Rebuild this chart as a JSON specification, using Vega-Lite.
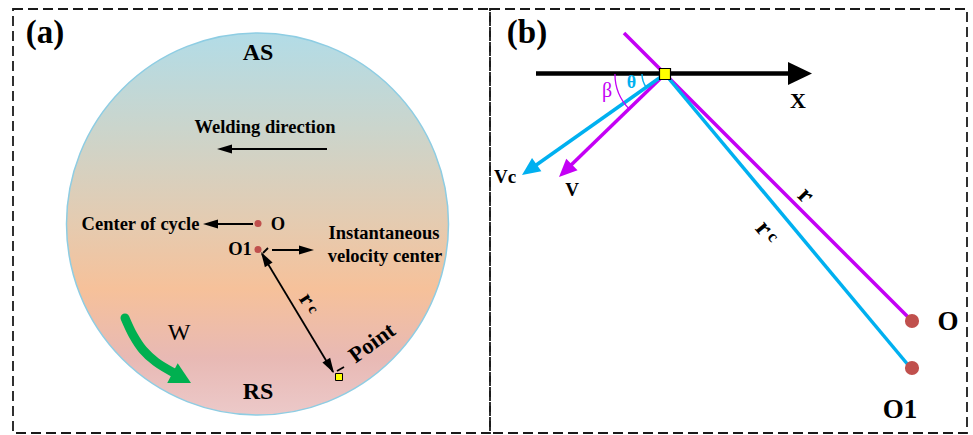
{
  "$schema": "https://vega.github.io/schema/vega-lite/v6.json",
  "width": 973,
  "height": 435,
  "autosize": {"type": "fit", "contains": "padding"},
  "padding": 0,
  "background": "white",
  "config": {"view": {"stroke": null}},
  "datasets": {
    "frames": [
      {"x": 13, "y": 9, "x2": 490, "y2": 433},
      {"x": 490, "y": 9, "x2": 967, "y2": 433}
    ],
    "disk": [{"x": 257.5, "y": 224}],
    "segs": [
      {"id": "weld", "x": 327, "y": 149, "x2": 225, "y2": 149},
      {"id": "cycle", "x": 253, "y": 224, "x2": 210, "y2": 224},
      {"id": "inst", "x": 272, "y": 250, "x2": 305, "y2": 250},
      {"id": "rc", "x": 262, "y": 254, "x2": 333, "y2": 372},
      {"id": "tickO1", "x": 263, "y": 253, "x2": 268, "y2": 248},
      {"id": "tickP", "x": 337, "y": 371, "x2": 344, "y2": 367},
      {"id": "xaxis", "x": 536, "y": 73.5, "x2": 795, "y2": 73.5},
      {"id": "r", "x": 624, "y": 33, "x2": 912, "y2": 321},
      {"id": "v", "x": 665, "y": 74, "x2": 567, "y2": 169},
      {"id": "rcb", "x": 665, "y": 74, "x2": 909, "y2": 366},
      {"id": "vc", "x": 665, "y": 74, "x2": 532, "y2": 168}
    ],
    "heads": [
      {"kind": "black", "x": 217, "y": 149, "dir": 270},
      {"kind": "black", "x": 203, "y": 224, "dir": 270},
      {"kind": "black", "x": 314, "y": 250, "dir": 90},
      {"kind": "black", "x": 261, "y": 252, "dir": 329},
      {"kind": "black", "x": 334, "y": 373, "dir": 149},
      {"kind": "X", "x": 812, "y": 73.5, "dir": 90},
      {"kind": "vc", "x": 522, "y": 175, "dir": 234.8},
      {"kind": "v", "x": 559, "y": 177, "dir": 225.8},
      {"kind": "green", "x": 191, "y": 383, "dir": 118}
    ],
    "green": [
      {"i": 0, "x": 125, "y": 318},
      {"i": 1, "x": 133, "y": 335},
      {"i": 2, "x": 143, "y": 350},
      {"i": 3, "x": 156, "y": 362},
      {"i": 4, "x": 176, "y": 374}
    ],
    "dots": [
      {"panel": "a", "x": 258, "y": 223.5},
      {"panel": "a", "x": 258, "y": 249.5},
      {"panel": "b", "x": 912, "y": 321},
      {"panel": "b", "x": 912, "y": 368}
    ],
    "squares": [
      {"panel": "a", "x": 339, "y": 377},
      {"panel": "b", "x": 665, "y": 74}
    ],
    "arcs": [
      {"id": "beta", "x": 665, "y": 74, "a1": 225.8, "a2": 270},
      {"id": "theta", "x": 665, "y": 74, "a1": 234.8, "a2": 270}
    ],
    "labels": [
      {"role": "panel", "t": "(a)", "x": 45, "y": 33},
      {"role": "panel", "t": "(b)", "x": 527, "y": 33},
      {"role": "big", "t": "AS", "x": 258, "y": 53},
      {"role": "big", "t": "RS", "x": 258, "y": 392},
      {"role": "bigb", "t": "O", "x": 948, "y": 322},
      {"role": "bigb", "t": "O1", "x": 900, "y": 410},
      {"role": "X", "t": "X", "x": 798, "y": 101},
      {"role": "mid", "t": "Welding direction", "x": 265, "y": 127},
      {"role": "mid", "t": "Center of cycle", "x": 140.5, "y": 224},
      {"role": "mid", "t": "O", "x": 278, "y": 224},
      {"role": "mid", "t": "O1", "x": 240, "y": 249},
      {"role": "mid", "t": "Instantaneous", "x": 384, "y": 233},
      {"role": "mid", "t": "velocity center", "x": 385, "y": 256},
      {"role": "W", "t": "W", "x": 179, "y": 333},
      {"role": "point", "t": "Point", "x": 372, "y": 343},
      {"role": "rca_r", "t": "r", "x": 307, "y": 299},
      {"role": "rca_c", "t": "c", "x": 313.5, "y": 309},
      {"role": "rb", "t": "r", "x": 806, "y": 195},
      {"role": "rcb_r", "t": "r", "x": 764, "y": 228},
      {"role": "rcb_c", "t": "c", "x": 773, "y": 237},
      {"role": "vel", "t": "Vc", "x": 505, "y": 177},
      {"role": "vel", "t": "V", "x": 572, "y": 190},
      {"role": "beta", "t": "β", "x": 607, "y": 91},
      {"role": "theta", "t": "θ", "x": 631.5, "y": 83}
    ]
  },
  "encoding": {
    "x": {"field": "x", "type": "quantitative", "scale": {"domain": [0, 973], "nice": false, "zero": false}, "axis": null},
    "y": {"field": "y", "type": "quantitative", "scale": {"domain": [0, 435], "nice": false, "zero": false, "reverse": true}, "axis": null}
  },
  "layer": [
    {
      "data": {"name": "frames"},
      "mark": {"type": "rect", "filled": false, "stroke": "#1a1a1a", "strokeWidth": 1.8, "strokeDash": [10, 5]},
      "encoding": {"x2": {"field": "x2"}, "y2": {"field": "y2"}}
    },
    {
      "data": {"name": "disk"},
      "mark": {
        "type": "point", "shape": "circle", "size": 145924, "filled": true, "opacity": 1,
        "fill": {"gradient": "linear", "x1": 0, "y1": 0, "x2": 0, "y2": 1, "stops": [
          {"offset": 0, "color": "#b2dce7"},
          {"offset": 0.25, "color": "#cbd5cc"},
          {"offset": 0.5, "color": "#e5cbb0"},
          {"offset": 0.67, "color": "#f6c19a"},
          {"offset": 0.85, "color": "#e8b9b4"},
          {"offset": 1, "color": "#ecc9c9"}
        ]},
        "stroke": "#8ecde3", "strokeWidth": 1.5
      }
    },
    {
      "data": {"name": "segs"},
      "transform": [{"filter": "indexof(['weld','cycle','inst','rc','tickO1','tickP'], datum.id) >= 0"}],
      "mark": {"type": "rule", "color": "#000000", "strokeWidth": 1.8},
      "encoding": {"x2": {"field": "x2"}, "y2": {"field": "y2"}}
    },
    {
      "data": {"name": "segs"},
      "transform": [{"filter": "datum.id == 'xaxis'"}],
      "mark": {"type": "rule", "color": "#000000", "strokeWidth": 4.5},
      "encoding": {"x2": {"field": "x2"}, "y2": {"field": "y2"}}
    },
    {
      "data": {"name": "segs"},
      "transform": [{"filter": "datum.id == 'r' || datum.id == 'v'"}],
      "mark": {"type": "rule", "color": "#c400f5", "strokeWidth": 3.5},
      "encoding": {"x2": {"field": "x2"}, "y2": {"field": "y2"}}
    },
    {
      "data": {"name": "segs"},
      "transform": [{"filter": "datum.id == 'rcb' || datum.id == 'vc'"}],
      "mark": {"type": "rule", "color": "#00b0f0", "strokeWidth": 3.5},
      "encoding": {"x2": {"field": "x2"}, "y2": {"field": "y2"}}
    },
    {
      "data": {"name": "arcs"},
      "transform": [{"filter": "datum.id == 'beta'"}],
      "mark": {"type": "arc", "radius": 50.7, "radius2": 49.4, "fill": "#c400f5"},
      "encoding": {
        "theta": {"field": "a1", "type": "quantitative", "stack": null, "scale": {"domain": [0, 360], "range": [0, 6.283185307]}},
        "theta2": {"field": "a2"}
      }
    },
    {
      "data": {"name": "arcs"},
      "transform": [{"filter": "datum.id == 'theta'"}],
      "mark": {"type": "arc", "radius": 23.7, "radius2": 22.3, "fill": "#00b0f0"},
      "encoding": {
        "theta": {"field": "a1", "type": "quantitative", "stack": null, "scale": {"domain": [0, 360], "range": [0, 6.283185307]}},
        "theta2": {"field": "a2"}
      }
    },
    {
      "data": {"name": "green"},
      "mark": {"type": "line", "color": "#00b050", "strokeWidth": 9, "strokeCap": "round", "interpolate": "catmull-rom"},
      "encoding": {"order": {"field": "i", "type": "quantitative"}}
    },
    {
      "data": {"name": "heads"},
      "transform": [{"filter": "datum.kind == 'black'"}],
      "mark": {"type": "point", "shape": "M0,0L-0.3,1L0.3,1Z", "size": 900, "filled": true, "fill": "#000000", "opacity": 1, "strokeWidth": 0},
      "encoding": {"angle": {"field": "dir", "type": "quantitative", "scale": null}}
    },
    {
      "data": {"name": "heads"},
      "transform": [{"filter": "datum.kind == 'X'"}],
      "mark": {"type": "point", "shape": "M0,0L-0.48,1L0.48,1Z", "size": 2304, "filled": true, "fill": "#000000", "opacity": 1, "strokeWidth": 0},
      "encoding": {"angle": {"field": "dir", "type": "quantitative", "scale": null}}
    },
    {
      "data": {"name": "heads"},
      "transform": [{"filter": "datum.kind == 'vc'"}],
      "mark": {"type": "point", "shape": "M0,0L-0.45,1L0.45,1Z", "size": 1296, "filled": true, "fill": "#00b0f0", "opacity": 1, "strokeWidth": 0},
      "encoding": {"angle": {"field": "dir", "type": "quantitative", "scale": null}}
    },
    {
      "data": {"name": "heads"},
      "transform": [{"filter": "datum.kind == 'v'"}],
      "mark": {"type": "point", "shape": "M0,0L-0.45,1L0.45,1Z", "size": 1296, "filled": true, "fill": "#c400f5", "opacity": 1, "strokeWidth": 0},
      "encoding": {"angle": {"field": "dir", "type": "quantitative", "scale": null}}
    },
    {
      "data": {"name": "heads"},
      "transform": [{"filter": "datum.kind == 'green'"}],
      "mark": {"type": "point", "shape": "M0,0L-0.53,1L0.53,1Z", "size": 1764, "filled": true, "fill": "#00b050", "opacity": 1, "strokeWidth": 0},
      "encoding": {"angle": {"field": "dir", "type": "quantitative", "scale": null}}
    },
    {
      "data": {"name": "dots"},
      "transform": [{"filter": "datum.panel == 'a'"}],
      "mark": {"type": "point", "shape": "circle", "size": 50, "filled": true, "fill": "#c0504d", "opacity": 1, "strokeWidth": 0}
    },
    {
      "data": {"name": "dots"},
      "transform": [{"filter": "datum.panel == 'b'"}],
      "mark": {"type": "point", "shape": "circle", "size": 200, "filled": true, "fill": "#c0504d", "opacity": 1, "strokeWidth": 0}
    },
    {
      "data": {"name": "squares"},
      "transform": [{"filter": "datum.panel == 'a'"}],
      "mark": {"type": "point", "shape": "square", "size": 49, "filled": true, "fill": "#ffff00", "opacity": 1, "stroke": "#000000", "strokeWidth": 1}
    },
    {
      "data": {"name": "squares"},
      "transform": [{"filter": "datum.panel == 'b'"}],
      "mark": {"type": "point", "shape": "square", "size": 121, "filled": true, "fill": "#ffff00", "opacity": 1, "stroke": "#000000", "strokeWidth": 1.2}
    },
    {
      "data": {"name": "labels"},
      "transform": [{"filter": "datum.role == 'panel'"}],
      "mark": {"type": "text", "font": "Liberation Serif", "fontWeight": "bold", "fontSize": 33, "baseline": "middle", "align": "center", "color": "#000000"},
      "encoding": {"text": {"field": "t"}}
    },
    {
      "data": {"name": "labels"},
      "transform": [{"filter": "datum.role == 'big'"}],
      "mark": {"type": "text", "font": "Liberation Serif", "fontWeight": "bold", "fontSize": 24, "baseline": "middle", "align": "center", "color": "#000000"},
      "encoding": {"text": {"field": "t"}}
    },
    {
      "data": {"name": "labels"},
      "transform": [{"filter": "datum.role == 'bigb'"}],
      "mark": {"type": "text", "font": "Liberation Serif", "fontWeight": "bold", "fontSize": 27, "baseline": "middle", "align": "center", "color": "#000000"},
      "encoding": {"text": {"field": "t"}}
    },
    {
      "data": {"name": "labels"},
      "transform": [{"filter": "datum.role == 'X'"}],
      "mark": {"type": "text", "font": "Liberation Serif", "fontWeight": "bold", "fontSize": 22, "baseline": "middle", "align": "center", "color": "#000000"},
      "encoding": {"text": {"field": "t"}}
    },
    {
      "data": {"name": "labels"},
      "transform": [{"filter": "datum.role == 'mid'"}],
      "mark": {"type": "text", "font": "Liberation Serif", "fontWeight": "bold", "fontSize": 18.5, "baseline": "middle", "align": "center", "color": "#000000"},
      "encoding": {"text": {"field": "t"}}
    },
    {
      "data": {"name": "labels"},
      "transform": [{"filter": "datum.role == 'W'"}],
      "mark": {"type": "text", "font": "Liberation Serif", "fontWeight": "normal", "fontSize": 24, "baseline": "middle", "align": "center", "color": "#000000"},
      "encoding": {"text": {"field": "t"}}
    },
    {
      "data": {"name": "labels"},
      "transform": [{"filter": "datum.role == 'point'"}],
      "mark": {"type": "text", "font": "Liberation Serif", "fontWeight": "bold", "fontSize": 22.5, "baseline": "middle", "align": "center", "angle": 324, "color": "#000000"},
      "encoding": {"text": {"field": "t"}}
    },
    {
      "data": {"name": "labels"},
      "transform": [{"filter": "datum.role == 'rca_r'"}],
      "mark": {"type": "text", "font": "Liberation Serif", "fontWeight": "bold", "fontSize": 23, "baseline": "middle", "align": "center", "angle": 58, "color": "#000000"},
      "encoding": {"text": {"field": "t"}}
    },
    {
      "data": {"name": "labels"},
      "transform": [{"filter": "datum.role == 'rca_c'"}],
      "mark": {"type": "text", "font": "Liberation Serif", "fontWeight": "bold", "fontSize": 15, "baseline": "middle", "align": "center", "angle": 58, "color": "#000000"},
      "encoding": {"text": {"field": "t"}}
    },
    {
      "data": {"name": "labels"},
      "transform": [{"filter": "datum.role == 'rb'"}],
      "mark": {"type": "text", "font": "Liberation Serif", "fontWeight": "bold", "fontSize": 26, "baseline": "middle", "align": "center", "angle": 45, "color": "#000000"},
      "encoding": {"text": {"field": "t"}}
    },
    {
      "data": {"name": "labels"},
      "transform": [{"filter": "datum.role == 'rcb_r'"}],
      "mark": {"type": "text", "font": "Liberation Serif", "fontWeight": "bold", "fontSize": 26, "baseline": "middle", "align": "center", "angle": 50, "color": "#000000"},
      "encoding": {"text": {"field": "t"}}
    },
    {
      "data": {"name": "labels"},
      "transform": [{"filter": "datum.role == 'rcb_c'"}],
      "mark": {"type": "text", "font": "Liberation Serif", "fontWeight": "bold", "fontSize": 17, "baseline": "middle", "align": "center", "angle": 50, "color": "#000000"},
      "encoding": {"text": {"field": "t"}}
    },
    {
      "data": {"name": "labels"},
      "transform": [{"filter": "datum.role == 'vel'"}],
      "mark": {"type": "text", "font": "Liberation Serif", "fontWeight": "bold", "fontSize": 19, "baseline": "middle", "align": "center", "color": "#000000"},
      "encoding": {"text": {"field": "t"}}
    },
    {
      "data": {"name": "labels"},
      "transform": [{"filter": "datum.role == 'beta'"}],
      "mark": {"type": "text", "font": "Liberation Serif", "fontWeight": "normal", "fontSize": 20, "baseline": "middle", "align": "center", "color": "#c400f5"},
      "encoding": {"text": {"field": "t"}}
    },
    {
      "data": {"name": "labels"},
      "transform": [{"filter": "datum.role == 'theta'"}],
      "mark": {"type": "text", "font": "Liberation Serif", "fontWeight": "bold", "fontSize": 18, "baseline": "middle", "align": "center", "color": "#00b0f0"},
      "encoding": {"text": {"field": "t"}}
    }
  ]
}
